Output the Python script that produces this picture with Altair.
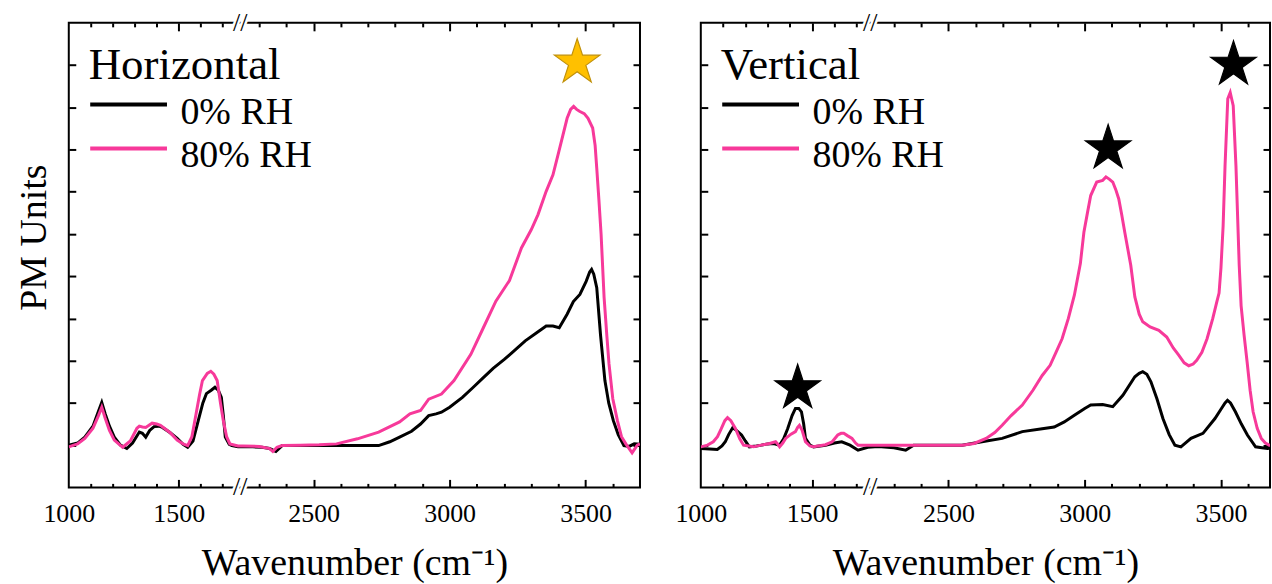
import altair as alt
import pandas as pd

# ---------------- data ----------------
SERIES = ["0% RH", "80% RH"]

# Horizontal panel
h_black_w = [1000, 1040, 1073, 1110, 1135, 1150, 1165, 1185, 1207, 1235, 1264, 1290, 1321, 1335, 1350,
             1368, 1388, 1410, 1426, 1460, 1493, 1520, 1541, 1565, 1589, 1610, 1626, 1648, 1665, 1680,
             1694, 1703, 1712, 1730, 1742, 1770, 2240, 2276, 2310, 2338, 2361, 2384, 2450, 2550, 2650,
             2739, 2780, 2816, 2860, 2893, 2923, 2950, 2970, 3000, 3047, 3085, 3124, 3160, 3201, 3240,
             3278, 3320, 3355, 3380, 3403, 3432, 3455, 3479, 3502, 3515, 3522, 3530, 3541, 3555, 3571,
             3585, 3602, 3620, 3641, 3660, 3679, 3700]
h_black_v = [0.0, 0.05, 0.19, 0.45, 0.8, 1.01, 0.75, 0.45, 0.19, 0.0, -0.08, 0.05, 0.31, 0.28, 0.19,
             0.35, 0.44, 0.45, 0.42, 0.3, 0.16, 0.02, -0.05, 0.1, 0.58, 1.0, 1.22, 1.3, 1.37, 1.3,
             1.13, 0.7, 0.19, 0.02, -0.01, -0.04, -0.04, -0.04, -0.05, -0.08, -0.15, -0.01, -0.01, -0.01, -0.01,
             -0.01, 0.08, 0.19, 0.33, 0.5, 0.7, 0.74, 0.78, 0.9, 1.13, 1.36, 1.6, 1.82, 2.03, 2.25,
             2.47, 2.66, 2.82, 2.82, 2.78, 3.1, 3.4, 3.57, 3.88, 4.1, 4.16, 4.05, 3.73, 2.6, 1.53,
             1.0, 0.58, 0.25, -0.01, -0.03, 0.03, 0.02]

h_pink_w = [1000, 1040, 1073, 1110, 1135, 1150, 1165, 1185, 1207, 1245, 1280, 1310, 1321, 1335, 1350,
            1379, 1400, 1417, 1460, 1493, 1520, 1541, 1560, 1579, 1595, 1608, 1630, 1646, 1660, 1675,
            1690, 1703, 1718, 1733, 1770, 2240, 2300, 2338, 2350, 2365, 2384, 2450, 2520, 2584, 2661,
            2739, 2816, 2854, 2893, 2923, 2970, 3016, 3078, 3124, 3170, 3220, 3264, 3300, 3325, 3355,
            3380, 3402, 3432, 3445, 3456, 3467, 3479, 3495, 3509, 3526, 3535, 3541, 3549, 3557, 3568,
            3578, 3586, 3600, 3617, 3632, 3648, 3671, 3690, 3700]
h_pink_v = [-0.04, 0.03, 0.16, 0.4, 0.7, 0.9, 0.65, 0.35, 0.12, -0.05, 0.1, 0.4, 0.45, 0.43, 0.42,
            0.52, 0.5, 0.47, 0.3, 0.12, 0.03, -0.01, 0.2, 0.74, 1.2, 1.53, 1.7, 1.75, 1.68, 1.53,
            1.0, 0.58, 0.2, 0.03, -0.02, -0.02, -0.03, -0.08, -0.15, -0.05, -0.01, 0.0, 0.01, 0.03, 0.15,
            0.31, 0.55, 0.74, 0.82, 1.09, 1.21, 1.53, 2.15, 2.78, 3.41, 3.9, 4.67, 5.1, 5.46, 6.01,
            6.4, 6.96, 7.74, 7.95, 8.02, 7.95, 7.9, 7.85, 7.74, 7.51, 7.1, 6.56, 5.8, 4.99, 3.5,
            2.6, 1.93, 1.1, 0.58, 0.2, 0.03, -0.18, 0.0, 0.03]

# Vertical panel
v_black_w = [1000, 1040, 1074, 1095, 1110, 1125, 1143, 1160, 1183, 1200, 1218, 1250, 1272, 1300, 1327,
             1354, 1372, 1390, 1410, 1425, 1440, 1452, 1462, 1470, 1490, 1506, 1560, 1600, 1633, 1670,
             1706, 1750, 2230, 2254, 2300, 2343, 2372, 2450, 2550, 2623, 2697, 2771, 2844, 2888, 2925,
             2962, 3000, 3022, 3066, 3103, 3140, 3184, 3200, 3213, 3228, 3243, 3265, 3287, 3310, 3331,
             3353, 3390, 3434, 3478, 3500, 3515, 3524, 3535, 3553, 3575, 3597, 3627, 3650, 3671, 3690]
v_black_v = [-0.08, -0.09, -0.1, -0.02, 0.08, 0.25, 0.41, 0.35, 0.24, 0.1, -0.04, -0.02, 0.0, 0.03, 0.04,
             0.0, 0.15, 0.39, 0.7, 0.87, 0.87, 0.79, 0.5, 0.16, 0.0, -0.04, 0.0, 0.05, 0.08, 0.0,
             -0.12, -0.05, -0.04, -0.04, -0.06, -0.12, 0.0, 0.0, 0.0, 0.08, 0.16, 0.32, 0.39, 0.43, 0.55,
             0.71, 0.87, 0.95, 0.96, 0.91, 1.18, 1.62, 1.7, 1.74, 1.68, 1.5, 1.1, 0.63, 0.25, 0.0,
             -0.04, 0.16, 0.28, 0.63, 0.85, 1.0, 1.06, 1.0, 0.79, 0.5, 0.24, -0.04, -0.06, -0.08, -0.06]

v_pink_w = [1000, 1030, 1056, 1075, 1092, 1108, 1120, 1135, 1156, 1175, 1192, 1237, 1270, 1309, 1336,
            1345, 1354, 1368, 1381, 1405, 1425, 1435, 1443, 1455, 1470, 1490, 1506, 1560, 1590, 1615,
            1630, 1642, 1660, 1679, 1695, 1706, 1750, 2230, 2300, 2400, 2550, 2594, 2638, 2670, 2697,
            2730, 2771, 2810, 2844, 2873, 2895, 2917, 2940, 2962, 2984, 2997, 3010, 3022, 3044, 3066,
            3078, 3090, 3103, 3114, 3125, 3136, 3147, 3158, 3169, 3184, 3200, 3213, 3240, 3272, 3301,
            3325, 3345, 3365, 3382, 3398, 3411, 3430, 3449, 3470, 3485, 3493, 3500, 3508, 3515, 3525,
            3534, 3545, 3555, 3567, 3574, 3585, 3596, 3607, 3618, 3633, 3648, 3663, 3677, 3690]
v_pink_v = [-0.04, 0.0, 0.08, 0.2, 0.39, 0.58, 0.65, 0.58, 0.39, 0.15, 0.0, -0.04, 0.0, 0.04, 0.08,
            0.03, -0.04, 0.05, 0.16, 0.26, 0.32, 0.42, 0.47, 0.35, 0.08, -0.02, -0.04, 0.01, 0.08, 0.24,
            0.28, 0.28, 0.22, 0.16, 0.05, 0.0, 0.0, 0.0, 0.0, 0.0, 0.0, 0.04, 0.16, 0.3, 0.47,
            0.7, 0.95, 1.3, 1.65, 1.89, 2.2, 2.52, 3.0, 3.55, 4.3, 5.04, 5.5, 5.91, 6.23, 6.27,
            6.35, 6.3, 6.23, 6.05, 5.83, 5.45, 5.04, 4.65, 4.26, 3.51, 3.1, 2.92, 2.8, 2.72, 2.56,
            2.3, 2.13, 1.95, 1.88, 1.92, 2.01, 2.2, 2.52, 3.0, 3.4, 3.6, 4.2, 5.2, 6.62, 8.2,
            8.35, 8.04, 6.62, 4.26, 3.3, 2.6, 1.97, 1.3, 0.79, 0.4, 0.16, 0.05, 0.0, 0.0]

# star annotations
h_star_w = [3469]
h_star_v = [9.06]
v_star_w = [1435, 3086, 3546]
v_star_v = [1.35, 7.03, 9.01]

# axis ticks
major_labels = [1000, 1500, 2500, 3000, 3500]
major_ticks = [1500, 2500, 3000, 3500]
minor_ticks = [1100, 1200, 1300, 1400, 1600, 1700, 2300, 2400, 2600, 2700, 2800, 2900,
               3100, 3200, 3300, 3400, 3600]
y_ticks = [0, 1, 2, 3, 4, 5, 6, 7, 8, 9]

# ---------------- styling ----------------
FONT = "Liberation Serif"
BLACK = "#000000"
PINK = "#F7399A"
STAR = ("M0,-1L0.2245,-0.309L0.951,-0.309L0.363,0.118L0.588,0.809L0,0.382"
        "L-0.588,0.809L-0.363,0.118L-0.951,-0.309L-0.2245,-0.309Z")
LEGEND_LINE = "M-2.5,-0.52L2.5,-0.52"
H = 466


def lines_df(bw, bv, pw, pv):
    a = pd.DataFrame({"w": bw, "v": bv, "series": SERIES[0], "k": 0})
    b = pd.DataFrame({"w": pw, "v": pv, "series": SERIES[1], "k": 1})
    return pd.concat([a, b], ignore_index=True)


def tick_axis(orient, values, size, offset):
    return alt.Axis(orient=orient, values=values, tickSize=size, tickWidth=2, tickColor="black",
                    labels=False, domain=False, grid=False, title="", offset=offset)


def panel(df, sw, sv, star_fill, star_stroke, name, xdom, xrng, W, ytitle):
    xs = alt.Scale(domain=xdom, range=xrng, nice=False, zero=False)
    ys = alt.Scale(domain=[-1, 10], nice=False, zero=False)
    stars = pd.DataFrame({"w": sw, "v": sv})
    brk = pd.DataFrame({"w": [2000, 2000], "v": [10, -1]})

    lines = alt.Chart(df).mark_line(strokeWidth=3, clip=True).encode(
        x=alt.X("w:Q", scale=xs, axis=alt.Axis(
            orient="bottom", values=major_labels, format="d", ticks=False, domain=False, grid=False,
            labelFont=FONT, labelFontSize=26, labelColor="black", labelPadding=13, labelFlush=False,
            title="Wavenumber (cm⁻¹)", titleFont=FONT, titleFontSize=38, titleFontWeight="normal",
            titleColor="black", titlePadding=18)),
        y=alt.Y("v:Q", scale=ys, axis=alt.Axis(
            orient="left", labels=False, ticks=False, domain=False, grid=False,
            title=ytitle, titleFont=FONT, titleFontSize=38, titleFontWeight="normal",
            titleColor="black", titlePadding=15, titleY=215)),
        color=alt.Color("series:N", scale=alt.Scale(domain=SERIES, range=[BLACK, PINK]),
                        legend=alt.Legend(
                            title=name, orient="none", legendX=20, legendY=20, padding=0,
                            titleFont=FONT, titleFontSize=45, titleFontWeight="normal",
                            titleColor="black", titlePadding=6, titleLimit=1000,
                            labelFont=FONT, labelFontSize=38, labelColor="black", labelOffset=33,
                            symbolType=LEGEND_LINE, symbolSize=949, symbolStrokeWidth=4,
                            symbolOffset=21, rowPadding=6, labelLimit=1000)),
        order=alt.Order("k:Q"),
    )

    star_layer = alt.Chart(stars).mark_point(
        shape=STAR, filled=True, size=2304, fill=star_fill, stroke=star_stroke,
        strokeWidth=1.2, opacity=1).encode(
        x=alt.X("w:Q", scale=xs, axis=tick_axis("top", major_ticks, 8, -H)),
        y=alt.Y("v:Q", scale=ys, axis=tick_axis("right", y_ticks, 7, -W)),
    )
    ghost1 = alt.Chart(stars).mark_point(opacity=0).encode(
        x=alt.X("w:Q", scale=xs, axis=tick_axis("top", minor_ticks, 4, -H)),
        y=alt.Y("v:Q", scale=ys, axis=tick_axis("left", y_ticks, 7, -W)),
    )
    brk_white = alt.Chart(brk).mark_text(
        text="//", font=FONT, fontSize=26, color="white", stroke="white", strokeWidth=5).encode(
        x=alt.X("w:Q", scale=xs, axis=tick_axis("bottom", major_ticks, 8, -H)),
        y=alt.Y("v:Q", scale=ys, axis=None),
    )
    brk_black = alt.Chart(brk).mark_text(
        text="//", font=FONT, fontSize=26, color="black").encode(
        x=alt.X("w:Q", scale=xs, axis=tick_axis("bottom", minor_ticks, 4, -H)),
        y=alt.Y("v:Q", scale=ys, axis=None),
    )
    return alt.layer(lines, ghost1, star_layer, brk_white, brk_black).resolve_axis(
        x="independent", y="independent").properties(width=W, height=H)


left = panel(lines_df(h_black_w, h_black_v, h_pink_w, h_pink_v), h_star_w, h_star_v,
             "#FFC000", "#C0900A", "Horizontal", [1000, 1780, 2230, 3700], [0, 172, 172, 573], 573,
             "PM Units")
right = panel(lines_df(v_black_w, v_black_v, v_pink_w, v_pink_v), v_star_w, v_star_v,
              "#000000", "#000000", "Vertical", [1000, 1761, 2213, 3680], [0, 170, 170, 571], 571, "")

chart = alt.hconcat(left, right, spacing=32).resolve_scale(color="independent").resolve_legend(
    color="independent").configure(
    padding={"left": 15, "top": 8, "right": 0, "bottom": 0}, background="white", font=FONT
).configure_axis(labelFont=FONT, titleFont=FONT).configure_legend(
    labelFont=FONT, titleFont=FONT
).configure_view(stroke="black", strokeWidth=2)

chart.save("out.html", embed_options={"renderer": "svg", "actions": False})
